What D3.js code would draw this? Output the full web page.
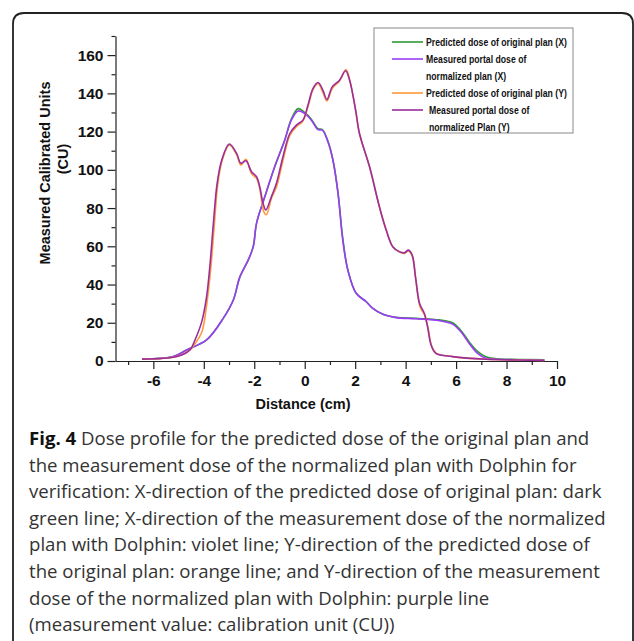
<!DOCTYPE html>
<html>
<head>
<meta charset="utf-8">
<title>Fig. 4 Dose profile</title>
<script src="https://d3js.org/d3.v7.min.js"></script>
<style>
  body { margin: 0; background: #fff; }
  svg { display: block; }
  .tick text { font-family: "Liberation Sans", Arial, sans-serif; font-weight: bold; font-size: 15.5px; fill: #111; }
  .tick line, .domain { stroke: #222; stroke-width: 1.2; }
  .title { font-family: "Liberation Sans", Arial, sans-serif; font-weight: bold; font-size: 14.5px; fill: #111; }
  .leg { font-family: "Liberation Sans", Arial, sans-serif; font-weight: bold; font-size: 10px; fill: #111; }
  .cap { font-family: "Open Sans", "Noto Sans", sans-serif; font-size: 18.6px; fill: #333; }
</style>
</head>
<body>
<svg id="chart" width="634" height="641"></svg>
<script>
// distance (cm) / measured calibrated units (CU)
var xGreen  = [-6.45,-5.2,-4.68,-3.89,-3.23,-2.83,-2.57,-2.24,-2.04,-1.91,-1.58,-1.19,-0.79,-0.53,-0.26,0,0.26,0.53,0.7,0.92,1.12,1.32,1.51,1.71,2.04,2.44,2.7,3.1,3.62,4.41,5.34,5.86,6.19,6.52,6.85,7.18,7.6,8.5,9.5];
var yGreen  = [1,2.3,5.8,11,22.3,31.9,44,52.8,59.8,72,86,101.6,115.6,126.5,132,130,126.5,121.5,121,115,105,88,64,47.6,35.4,31,27.5,24.4,22.8,22.3,21.5,20,16,10,5,2.2,1.2,0.8,0.6];
var xViolet = [-6.45,-5.2,-4.68,-3.89,-3.23,-2.83,-2.57,-2.24,-2.04,-1.91,-1.58,-1.19,-0.79,-0.53,-0.26,0,0.26,0.53,0.7,0.92,1.12,1.32,1.51,1.71,2.04,2.44,2.7,3.1,3.62,4.41,5.34,5.86,6.19,6.52,6.85,7.18,7.6,8.5,9.5];
var yViolet = [1,2.3,5.8,11,22.3,31.9,44,52.8,59.8,72,86,101.6,115.6,126,130.8,129.5,126,121,120.8,114.7,105,87.7,63,47.6,35.4,31,27.5,24.4,22.7,22.1,21.1,19.3,15.3,9.2,4,1.4,0.9,0.6,0.4];
var xOrange = [-6.45,-5.07,-4.55,-4.35,-4.08,-3.89,-3.72,-3.59,-3.45,-3.28,-2.99,-2.7,-2.53,-2.33,-2.11,-1.91,-1.78,-1.62,-1.52,-1.32,-1.12,-0.86,-0.59,-0.33,-0.07,0.13,0.33,0.53,0.72,0.88,1.09,1.38,1.64,1.8,2.02,2.17,2.57,2.96,3.23,3.49,3.75,3.95,4.11,4.26,4.41,4.58,4.76,4.9,5.04,5.22,5.86,7.18,8.5,9.5];
var yOrange = [1,2.3,5.8,9,15,29,49,70,92,104.5,113,108,102.5,105.5,98,95.5,90,78,76.5,85,91,105,118,122.5,125.5,133,142,145,140.5,136,142.5,146.5,152.5,146,131,119,101.6,80.7,68.5,59.8,57,56.3,57.5,55,42,28,24,16.5,7.5,4,2.3,0.9,0.5,0.3];
var xPurple = [-6.45,-5.07,-4.55,-4.35,-4.08,-3.89,-3.75,-3.62,-3.47,-3.29,-2.99,-2.7,-2.53,-2.33,-2.11,-1.91,-1.78,-1.65,-1.54,-1.32,-1.12,-0.86,-0.59,-0.33,-0.07,0.13,0.33,0.53,0.72,0.88,1.09,1.38,1.62,1.78,2.02,2.17,2.57,2.96,3.23,3.49,3.75,3.95,4.11,4.26,4.39,4.55,4.74,4.87,5.01,5.2,5.86,7.18,8.5,9.5];
var yPurple = [1,2.3,5.8,11,20.6,33.6,51,72,93,105,113.5,108.6,103.4,104.7,99,96.4,91,82.4,79,86,93,107,119,123.4,126,133.9,142.6,145.7,141.7,136.8,143.4,146.9,151.8,146.9,131,119,101.6,80.7,68.5,59.8,57.2,56.6,58,55.4,44,30.2,24.9,17.9,8.4,4,2.3,0.9,0.5,0.3];

var xTicks = [-6,-4,-2,0,2,4,6,8,10];
var xMinor = [-7,-5,-3,-1,1,3,5,7,9];
var yTicks = [0,20,40,60,80,100,120,140,160];
var yMinor = [10,30,50,70,90,110,130,150,170];

var legendLabels = [
  ["Predicted dose of original plan (X)"],
  ["Measured portal dose of", "normalized plan (X)"],
  ["Predicted dose of original plan (Y)"],
  ["Measured portal dose of", "normalized Plan (Y)"]
];
var captionLines = [
  "Dose profile for the predicted dose of the original plan and",
  "the measurement dose of the normalized plan with Dolphin for",
  "verification: X-direction of the predicted dose of original plan: dark",
  "green line; X-direction of the measurement dose of the normalized",
  "plan with Dolphin: violet line; Y-direction of the predicted dose of",
  "the original plan: orange line; and Y-direction of the measurement",
  "dose of the normalized plan with Dolphin: purple line",
  "(measurement value: calibration unit (CU))"
];

var series = [
  {xs: xGreen,  ys: yGreen,  color: "#2f9a35"},
  {xs: xViolet, ys: yViolet, color: "#9b3cf7"},
  {xs: xOrange, ys: yOrange, color: "#ff9a3a"},
  {xs: xPurple, ys: yPurple, color: "#9a2e9e"}
];

var svg = d3.select("#chart");

// outer frame, open at the bottom
svg.append("path")
  .attr("d", "M13,645 L13,24 Q13,13 24,13 L622,13 Q633,13 633,24 L633,645")
  .attr("fill", "none").attr("stroke", "#222").attr("stroke-width", 1.8);

var x = d3.scaleLinear().domain([-7.5, 10]).range([115.5, 557]);
var y = d3.scaleLinear().domain([0, 170]).range([361, 36]);
var fmt = function(d) { return String(d); };

var gx = svg.append("g").attr("transform", "translate(0,361)");
gx.call(d3.axisBottom(x).tickValues(xTicks).tickFormat(fmt).tickSize(8).tickSizeOuter(0).tickPadding(6));
gx.append("g").call(d3.axisBottom(x).tickValues(xMinor).tickSize(4).tickFormat("")).select(".domain").remove();

var gy = svg.append("g").attr("transform", "translate(115.5,0)");
gy.call(d3.axisLeft(y).tickValues(yTicks).tickFormat(fmt).tickSize(8).tickSizeOuter(0).tickPadding(4));
gy.append("g").call(d3.axisLeft(y).tickValues(yMinor).tickSize(4).tickFormat("")).select(".domain").remove();

svg.append("text").attr("class", "title")
  .attr("x", 303).attr("y", 409).attr("text-anchor", "middle")
  .text("Distance (cm)");
svg.append("text").attr("class", "title")
  .attr("transform", "translate(50,173) rotate(-90)").attr("text-anchor", "middle")
  .text("Measured Calibrated Units");
svg.append("text").attr("class", "title")
  .attr("transform", "translate(68,159) rotate(-90)").attr("text-anchor", "middle")
  .text("(CU)");

var line = d3.line()
  .x(function(d) { return x(d[0]); })
  .y(function(d) { return y(d[1]); })
  .curve(d3.curveCatmullRom);

series.forEach(function(s) {
  svg.append("path")
    .datum(d3.zip(s.xs, s.ys))
    .attr("d", line)
    .attr("fill", "none")
    .attr("stroke", s.color)
    .attr("stroke-width", 1.6)
    .attr("stroke-linejoin", "round");
});

// legend
var leg = svg.append("g");
leg.append("rect").attr("x", 374).attr("y", 28).attr("width", 199).attr("height", 105)
  .attr("fill", "#fff").attr("stroke", "#888").attr("stroke-width", 1);
var rowY = 42, legTexts = [];
legendLabels.forEach(function(lines, i) {
  leg.append("line").attr("x1", 392).attr("x2", 423).attr("y1", rowY).attr("y2", rowY)
    .attr("stroke", series[i].color).attr("stroke-width", 1.6);
  lines.forEach(function(t, j) {
    var tx = leg.append("text").attr("class", "leg").text(t);
    legTexts.push({node: tx, x: i === 3 ? 429 : 426, y: rowY + 3.5 + j * 17});
  });
  rowY += 17 * lines.length;
});
// the legend face is a narrow bold; squeeze the regular bold to the same width
var k = 141 / legTexts[0].node.node().getComputedTextLength();
legTexts.forEach(function(t) {
  t.node.attr("transform", "translate(" + t.x + "," + t.y + ") scale(" + k + ",1)");
});

// caption
var cap = svg.append("g");
captionLines.forEach(function(t, i) {
  var tx = cap.append("text").attr("class", "cap")
    .attr("x", 29).attr("y", 445 + i * 26.6);
  if (i === 0) {
    tx.append("tspan").attr("font-weight", "bold").attr("fill", "#111").text("Fig. 4 ");
  }
  tx.append("tspan").text(t);
});
</script>
</body>
</html>
